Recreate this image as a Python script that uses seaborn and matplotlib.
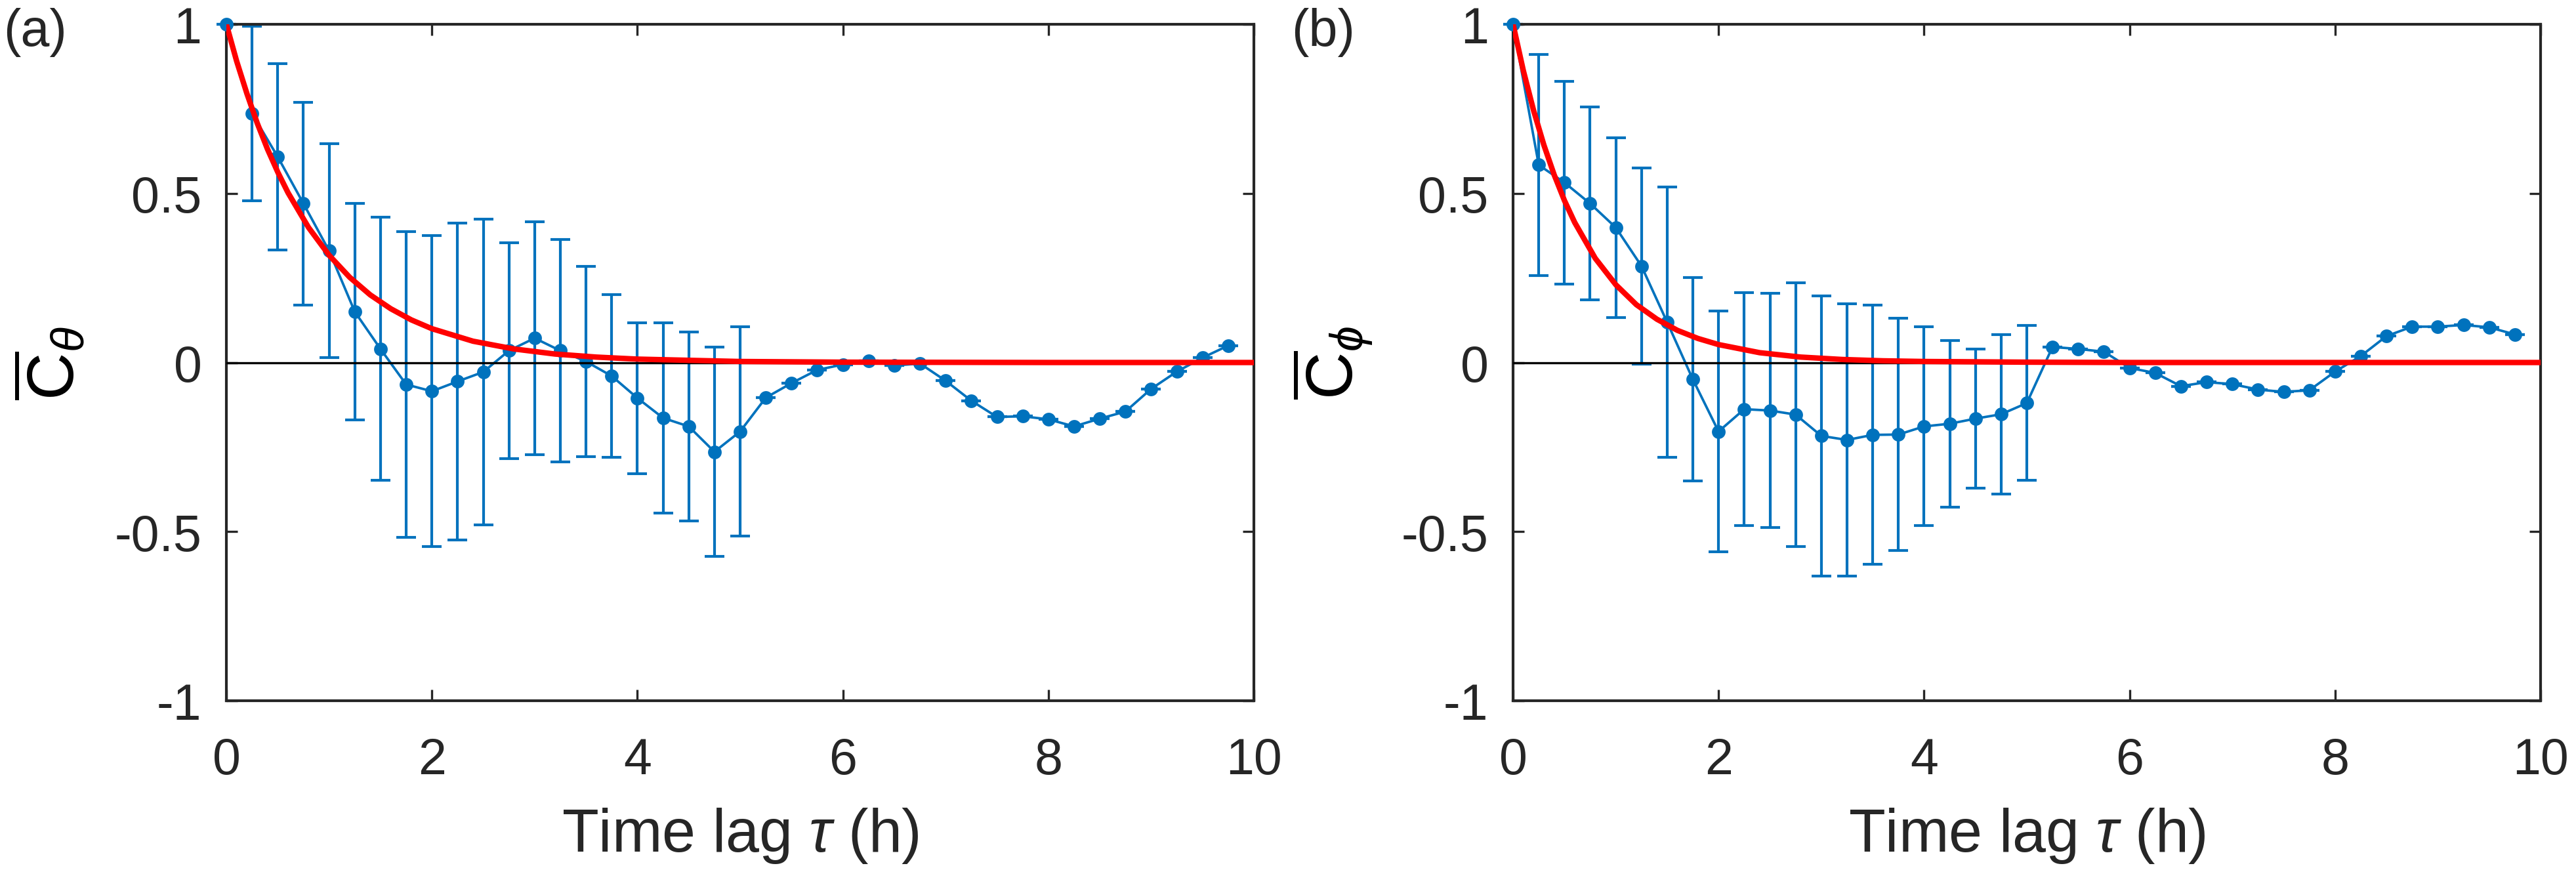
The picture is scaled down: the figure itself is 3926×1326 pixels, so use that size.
import matplotlib
matplotlib.use("Agg")
import matplotlib.pyplot as plt
import seaborn as sns

# time lags (h)
lag = [0.0, 0.25, 0.5, 0.75, 1.0, 1.25, 1.5, 1.75, 2.0, 2.25,
       2.5, 2.75, 3.0, 3.25, 3.5, 3.75, 4.0, 4.25, 4.5, 4.75,
       5.0, 5.25, 5.5, 5.75, 6.0, 6.25, 6.5, 6.75, 7.0, 7.25,
       7.5, 7.75, 8.0, 8.25, 8.5, 8.75, 9.0, 9.25, 9.5, 9.75]

# (a) mean autocorrelation of theta and its spread
c_theta = [1.0, 0.736, 0.608, 0.470, 0.330, 0.150, 0.040, -0.065, -0.085, -0.056,
           -0.028, 0.035, 0.072, 0.035, 0.003, -0.040, -0.105, -0.164, -0.189, -0.264,
           -0.204, -0.104, -0.061, -0.022, -0.006, 0.005, -0.009, -0.003, -0.054, -0.113,
           -0.161, -0.159, -0.168, -0.189, -0.166, -0.145, -0.078, -0.027, 0.014, 0.050]
err_theta = [0.0, 0.258, 0.275, 0.300, 0.316, 0.320, 0.389, 0.452, 0.460, 0.468,
             0.452, 0.319, 0.344, 0.328, 0.282, 0.240, 0.223, 0.282, 0.279, 0.310,
             0.310, 0.0, 0.0, 0.0, 0.0, 0.0, 0.0, 0.0, 0.0, 0.0,
             0.0, 0.0, 0.0, 0.0, 0.0, 0.0, 0.0, 0.0, 0.0, 0.0]

# (b) mean autocorrelation of phi and its spread
c_phi = [1.0, 0.584, 0.532, 0.470, 0.399, 0.285, 0.119, -0.050, -0.204, -0.138,
         -0.142, -0.154, -0.217, -0.229, -0.214, -0.213, -0.189, -0.181, -0.166, -0.153,
         -0.120, 0.046, 0.040, 0.032, -0.016, -0.031, -0.070, -0.058, -0.064, -0.080,
         -0.087, -0.082, -0.027, 0.019, 0.078, 0.106, 0.106, 0.111, 0.104, 0.083]
err_phi = [0.0, 0.327, 0.300, 0.285, 0.266, 0.290, 0.400, 0.301, 0.356, 0.344,
           0.346, 0.390, 0.414, 0.402, 0.383, 0.343, 0.294, 0.246, 0.205, 0.235,
           0.229, 0.0, 0.0, 0.0, 0.0, 0.0, 0.0, 0.0, 0.0, 0.0,
           0.0, 0.0, 0.0, 0.0, 0.0, 0.0, 0.0, 0.0, 0.0, 0.0]

# exponential fits (red curves)
fit_t = [0.0, 0.1, 0.2, 0.3, 0.4, 0.5, 0.6, 0.8, 1.0, 1.2, 1.4, 1.6, 1.8,
         2.0, 2.4, 2.8, 3.2, 3.6, 4.0, 5.0, 6.0, 8.0, 10.0]
fit_theta = [1.000, 0.891, 0.795, 0.708, 0.631, 0.563, 0.502, 0.399, 0.317, 0.252,
             0.200, 0.159, 0.126, 0.100, 0.063, 0.040, 0.025, 0.016, 0.010, 0.003,
             0.001, 0.0, 0.0]
fit_phi = [1.000, 0.863, 0.745, 0.643, 0.555, 0.479, 0.414, 0.308, 0.230, 0.171,
           0.128, 0.095, 0.071, 0.053, 0.029, 0.016, 0.009, 0.005, 0.003, 0.001,
           0.0, 0.0, 0.0]

x_ticks = [0, 2, 4, 6, 8, 10]
y_ticks = [-1, -0.5, 0, 0.5, 1]
y_ticklabels = ["-1", "-0.5", "0", "0.5", "1"]

BLUE = "#0072BD"
RED = "#FF0000"

sns.set_theme(style="ticks")
plt.rcParams["font.family"] = ["Liberation Sans", "DejaVu Sans"]
plt.rcParams["mathtext.fontset"] = "custom"
plt.rcParams["mathtext.rm"] = "Liberation Sans"
plt.rcParams["mathtext.it"] = "Liberation Sans:italic"
plt.rcParams["axes.unicode_minus"] = False

W, H = 3926, 1327
fig = plt.figure(figsize=(W / 300, H / 300), dpi=300)

panels = [
    ("(a)", c_theta, err_theta, fit_theta, r"$\overline{\mathrm{C}}_{\theta}$", 345, 5),
    ("(b)", c_phi, err_phi, fit_phi, r"$\overline{\mathrm{C}}_{\phi}$", 2306, 1968),
]

for tag, mean, err, fit, ylab, left_px, tag_px in panels:
    ax = fig.add_axes([left_px / W, 1 - 1069 / H, 1566 / W, (1069 - 38) / H])

    eb = ax.errorbar(lag, mean, yerr=err, fmt="none", ecolor=BLUE,
                     elinewidth=1.0, capsize=3.6, capthick=1.0, zorder=2)
    for art in eb.lines[1] + eb.lines[2]:
        art.set_clip_on(False)
    sns.lineplot(x=lag, y=mean, ax=ax, color=BLUE, linewidth=0.9,
                 marker="o", markersize=5, markeredgewidth=0, zorder=3,
                 clip_on=False)
    ax.axhline(0, color="black", linewidth=0.8, zorder=4)
    sns.lineplot(x=fit_t, y=fit, ax=ax, color=RED, linewidth=2.0, zorder=5)

    ax.set_xlim(0, 10)
    ax.set_ylim(-1, 1)
    ax.set_xticks(x_ticks)
    ax.set_yticks(y_ticks)
    ax.set_yticklabels(y_ticklabels)
    ax.tick_params(direction="in", length=4, width=0.8, labelsize=18.5,
                   top=True, right=True, colors="#262626", pad=9)
    ax.tick_params(axis="x", pad=13)
    for sp in ax.spines.values():
        sp.set_color("#262626")
        sp.set_linewidth(1.0)

    ax.set_xlabel(r"Time lag $\tau$ (h)", fontsize=22, color="#262626", labelpad=8)
    ax.set_ylabel(ylab, fontsize=24, color="black")
    ax.yaxis.set_label_coords(-0.135, 0.5)

    fig.text(tag_px / W, 1 - 12 / H, tag, fontsize=19, color="#262626",
             ha="left", va="top")

fig.savefig("out.png", dpi=300)
